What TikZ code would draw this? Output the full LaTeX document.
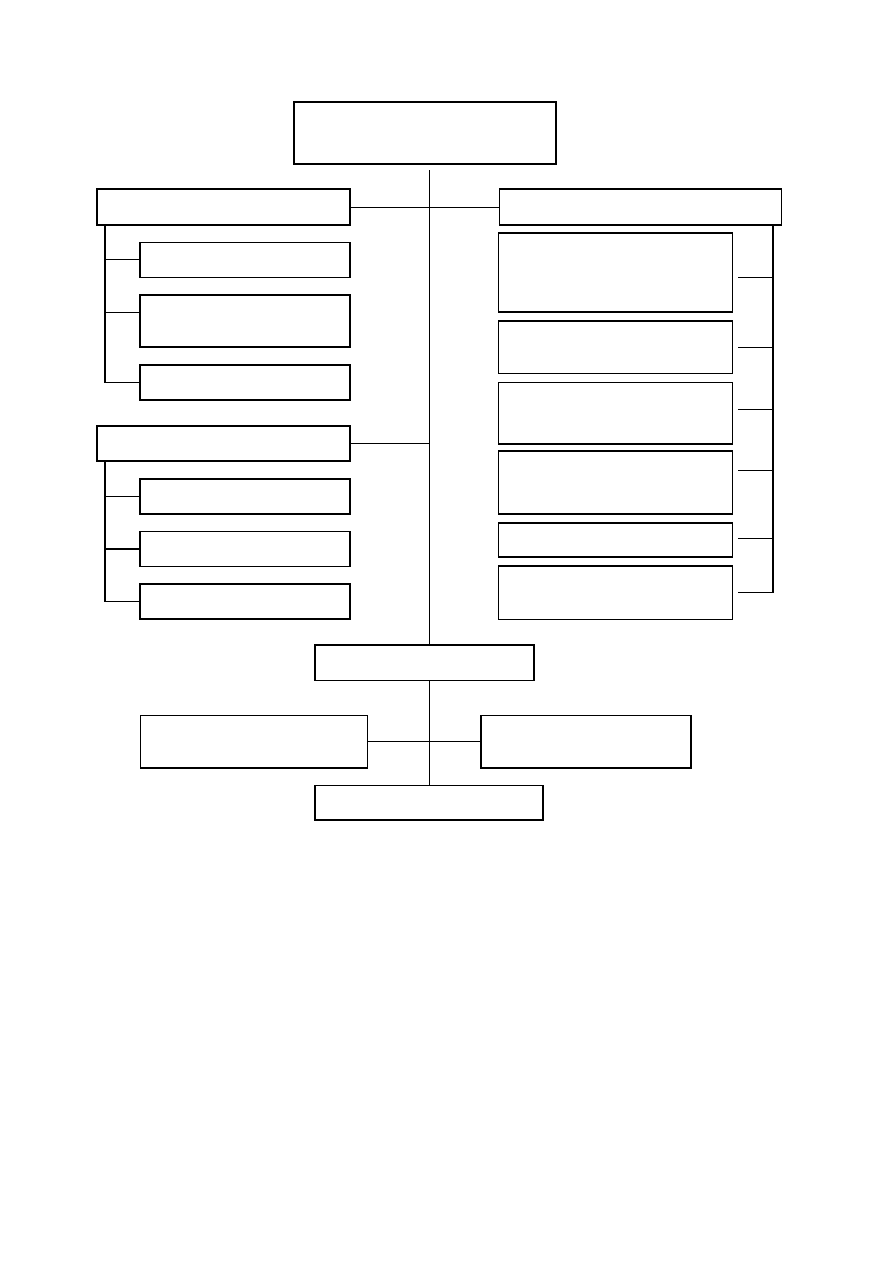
\documentclass[tikz,border=0pt]{standalone}
\begin{document}
\begin{tikzpicture}[x=1pt,y=-1pt,box/.style={draw,line width=1.6pt,inner sep=0pt},lnk/.style={line width=1pt},brk/.style={line width=1.5pt}]
        \useasboundingbox (0,0) rectangle (893,1263);
        \node [box,minimum width=262,minimum height=62] (top) at (424.8,133.2) {};
        \node [box,minimum width=253,minimum height=36] (hl) at (223.5,207.2) {};
        \node [box,minimum width=282,minimum height=36] (hr) at (640.3,207.2) {};
        \node [box,minimum width=210,minimum height=35] (l1) at (245,259.8) {};
        \node [box,minimum width=210,minimum height=52] (l2) at (245,321.2) {};
        \node [box,minimum width=210,minimum height=35] (l3) at (245,382.4) {};
        \node [box,minimum width=253,minimum height=35] (hl2) at (223.5,443.7) {};
        \node [box,minimum width=210,minimum height=35] (l4) at (245,496.3) {};
        \node [box,minimum width=210,minimum height=35] (l5) at (245,548.8) {};
        \node [box,minimum width=210,minimum height=35] (l6) at (245,601.4) {};
        \node [box,minimum width=234,minimum height=79] (r1) at (615.6,272.7) {};
        \node [box,minimum width=234,minimum height=52.6] (r2) at (615.6,347) {};
        \node [box,minimum width=234,minimum height=61.7] (r3) at (615.6,413.2) {};
        \node [box,minimum width=234,minimum height=63.3] (r4) at (615.6,482.4) {};
        \node [box,minimum width=234,minimum height=34.3] (r5) at (615.6,539.9) {};
        \node [box,minimum width=234,minimum height=53.3] (r6) at (615.6,592.7) {};
        \node [box,minimum width=219,minimum height=35.6] (mid) at (424.4,662.5) {};
        \node [box,minimum width=227,minimum height=52.7] (ll) at (253.8,741.7) {};
        \node [box,minimum width=210,minimum height=52.7] (lr) at (586.2,741.7) {};
        \node [box,minimum width=228,minimum height=34.7] (bot) at (428.9,802.7) {};
        \coordinate (c) at (429,170);
        \coordinate (bl) at (105,0);
        \coordinate (br) at (773,0);
        \draw [lnk] (c) -- (c |- mid.north);
        \draw [lnk] (hl.east) -- (hr.west);
        \draw [lnk] (hl2.east) -- (hl2.east -| c);
        \draw [brk] (hl.south -| bl) |- (l3.west);
        \draw [lnk] (l1.west) -- (l1.west -| bl);
        \draw [lnk] (l2.west |- 0,312) -- (bl |- 0,312);
        \draw [brk] (hl2.south -| bl) |- (l6.west);
        \draw [lnk] (l4.west) -- (l4.west -| bl);
        \draw [brk] (l5.west) -- (l5.west -| bl);
        \draw [brk] (hr.south -| br) -- (br |- 0,592.5);
        \foreach \n/\y in {r1/277.5,r2/347.5,r3/409,r4/470,r5/538,r6/592.5}
            \draw [lnk,shorten <=5pt] (\n.east |- 0,\y) -- (br |- 0,\y);
        \draw [lnk] (mid.south -| c) -- (bot.north -| c);
        \draw [lnk] (ll.east) -- (lr.west);
\end{tikzpicture}
\end{document}
